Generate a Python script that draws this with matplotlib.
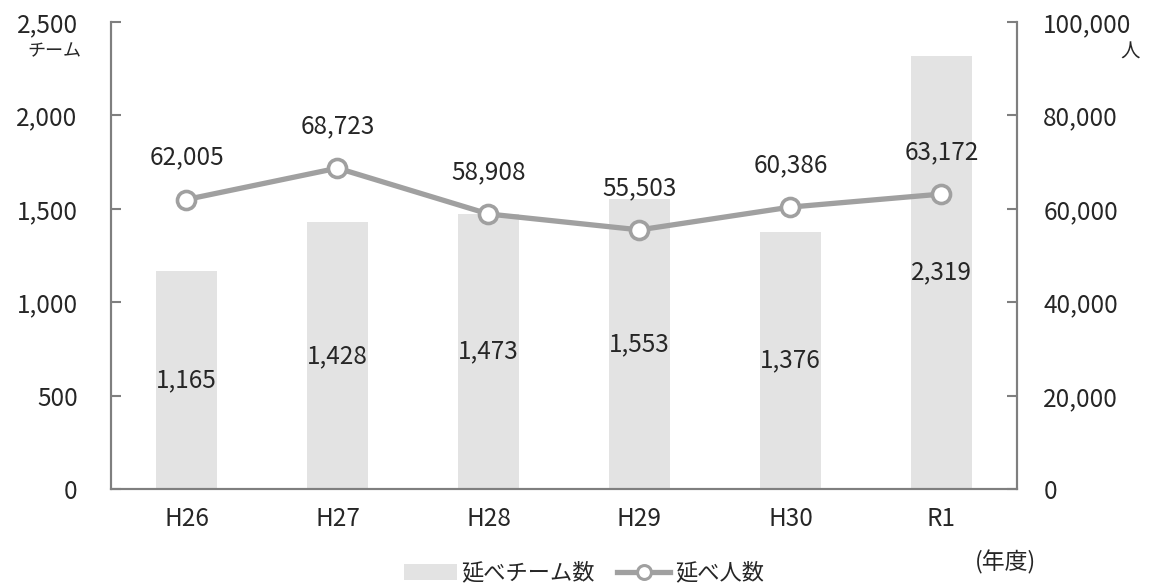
import matplotlib
matplotlib.use('Agg')
from matplotlib import pyplot as plt
from matplotlib.ticker import FuncFormatter
from matplotlib.lines import Line2D
from matplotlib.patches import Patch

plt.rcParams['font.family'] = ['Noto Sans CJK JP', 'DejaVu Sans']

# data
years = ['H26', 'H27', 'H28', 'H29', 'H30', 'R1']
teams = [1165, 1428, 1473, 1553, 1376, 2319]
people = [62005, 68723, 58908, 55503, 60386, 63172]

bar_color = '#e3e3e3'
line_color = '#a0a0a0'
spine_color = '#7f7f7f'
text_color = '#262626'
fs = 17.5

fig = plt.figure(figsize=(11.49, 5.88), dpi=100)
ax = fig.add_axes([0.0966, 0.168, 0.7885, 0.7946])
ax2 = ax.twinx()

x = list(range(len(years)))
ax.bar(x, teams, width=0.4, color=bar_color, zorder=1)
for xi, v in zip(x, teams):
    ax.text(xi, v / 2, '{:,}'.format(v), ha='center', va='center', fontsize=fs, color=text_color)

ax2.plot(x, people, color=line_color, linewidth=3.8, marker='o', markersize=13,
         markerfacecolor='white', markeredgecolor=line_color, markeredgewidth=2.6, zorder=3)
for xi, v in zip(x, people):
    ax2.text(xi, v + 9000, '{:,}'.format(v), ha='center', va='center', fontsize=fs, color=text_color)

ax.set_xlim(-0.5, 5.5)
ax.set_ylim(0, 2500)
ax2.set_ylim(0, 100000)
ax.set_yticks([0, 500, 1000, 1500, 2000, 2500])
ax2.set_yticks([0, 20000, 40000, 60000, 80000, 100000])
fmt = FuncFormatter(lambda v, p: '{:,}'.format(int(v)))
ax.yaxis.set_major_formatter(fmt)
ax2.yaxis.set_major_formatter(fmt)
ax.set_xticks(x)
ax.set_xticklabels(years)

for a in (ax, ax2):
    a.spines['top'].set_visible(False)
    for s in ('left', 'right', 'bottom'):
        a.spines[s].set_color(spine_color)
        a.spines[s].set_linewidth(1.5)
ax.tick_params(axis='y', direction='in', length=7, width=1.5, color=spine_color,
               labelsize=fs, labelcolor=text_color, pad=24)
ax2.tick_params(axis='y', direction='in', length=7, width=1.5, color=spine_color,
                labelsize=fs, labelcolor=text_color, pad=19)
ax.tick_params(axis='x', length=0, labelsize=fs, labelcolor=text_color, pad=12)

fig.text(0.071, 0.912, 'チーム', ha='right', va='center', fontsize=13, color=text_color)
fig.text(0.992, 0.912, '人', ha='right', va='center', fontsize=14, color=text_color)
fig.text(0.875, 0.044, '(年度)', ha='center', va='center', fontsize=16.5, color=text_color)

handles = [Patch(facecolor=bar_color, edgecolor='none'),
           Line2D([0], [0], color=line_color, linewidth=3.8, marker='o', markersize=10,
                  markerfacecolor='white', markeredgecolor=line_color, markeredgewidth=2.2)]
fig.legend(handles, ['延べチーム数', '延べ人数'], loc='center', bbox_to_anchor=(0.508, 0.025),
           ncol=2, frameon=False, fontsize=16, handlelength=2.4, handletextpad=0.2,
           columnspacing=1.0, labelcolor=text_color)

plt.savefig('out.png', dpi=100)
